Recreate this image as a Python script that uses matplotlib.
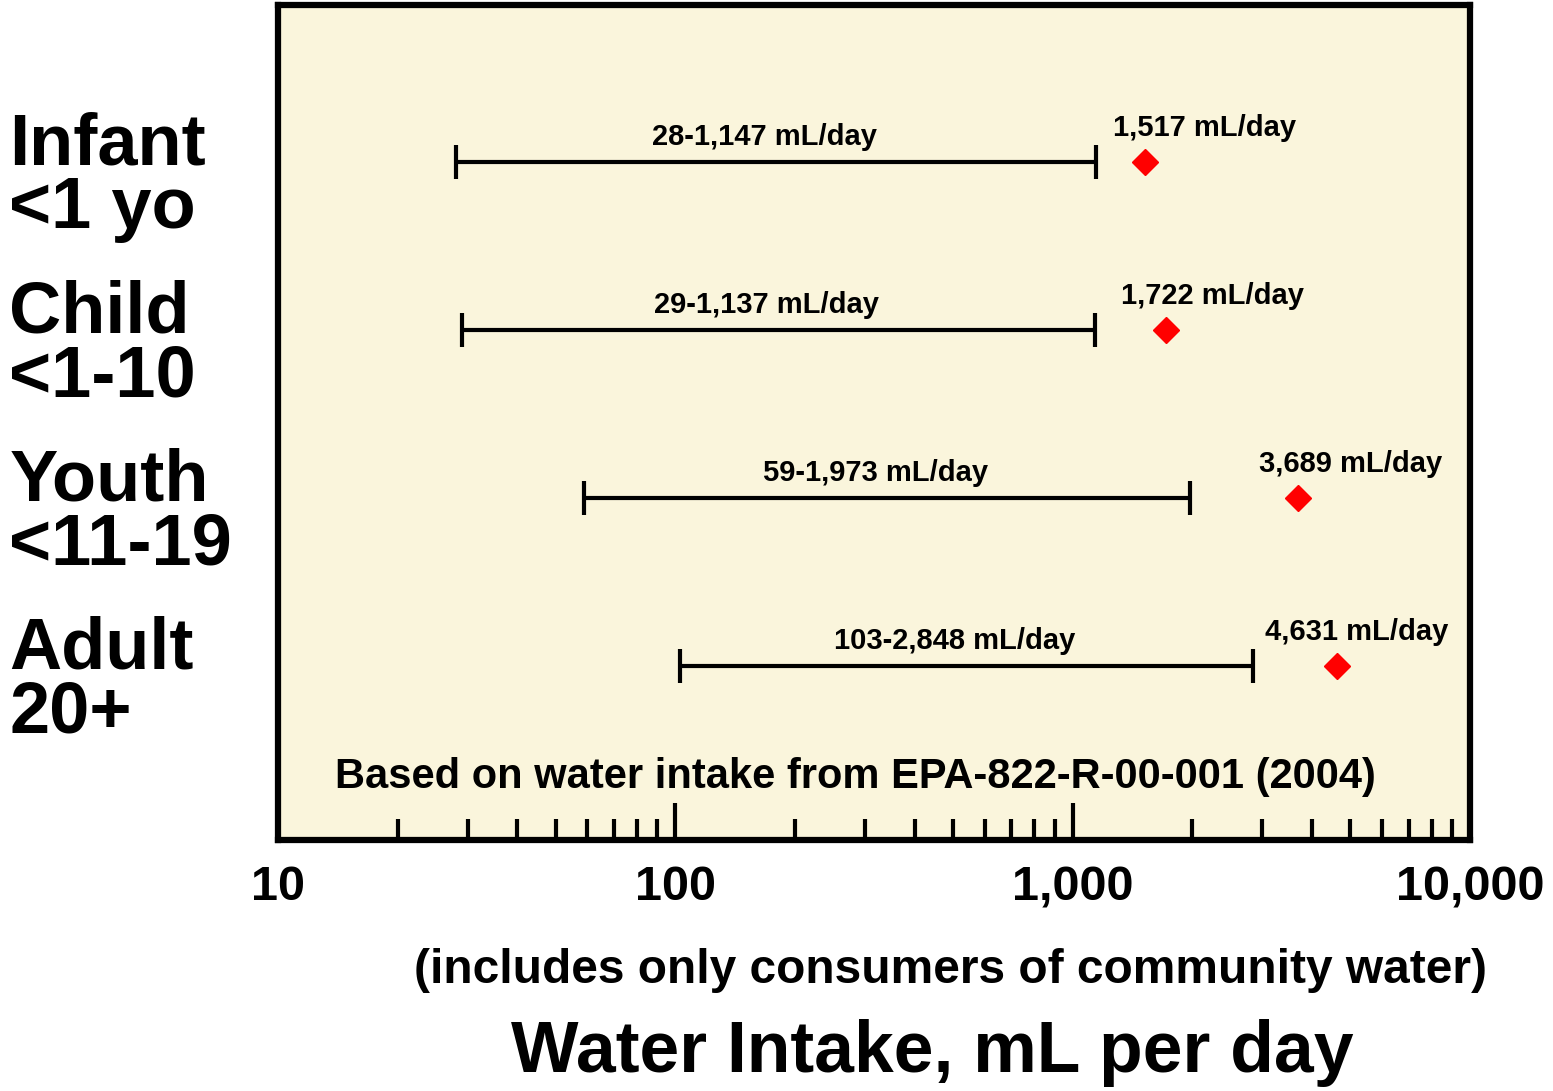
import matplotlib
matplotlib.use("Agg")
import numpy as np
import matplotlib.pyplot as plt
from matplotlib.ticker import FixedLocator, FuncFormatter
from matplotlib.transforms import blended_transform_factory

# data
groups = ["Infant\n<1 yo", "Child\n<1-10", "Youth\n<11-19", "Adult\n20+"]
range_lo = [28, 29, 59, 103]
range_hi = [1147, 1137, 1973, 2848]
upper_pt = [1517, 1722, 3689, 4631]
range_labels = ["28-1,147 mL/day", "29-1,137 mL/day", "59-1,973 mL/day", "103-2,848 mL/day"]
point_labels = ["1,517 mL/day", "1,722 mL/day", "3,689 mL/day", "4,631 mL/day"]

plt.rcParams['font.family'] = ['Liberation Sans', 'DejaVu Sans']
plt.rcParams['font.weight'] = 'bold'

fig = plt.figure(figsize=(15.53, 10.91), dpi=100)
ax = fig.add_axes([0.179, 0.230, 0.7676, 0.7654])
ax.set_facecolor('#FAF5DC')

rows = np.arange(len(groups))
ax.set_xscale('log')
ax.set_xlim(10, 10000)
ax.set_ylim(3 + 174 / 168, -157 / 168)

# range bars with end caps
ax.hlines(rows, range_lo, range_hi, color='black', lw=3)
ax.plot(range_lo, rows, ls='none', marker='|', ms=24, mew=3, color='black')
ax.plot(range_hi, rows, ls='none', marker='|', ms=24, mew=3, color='black')
# red diamonds
ax.plot(upper_pt, rows, ls='none', marker='D', ms=13, color='#FF0000', mec='#FF0000')

label_dx = [-32, -45, -39, -72]
for i in rows:
    mid = np.sqrt(range_lo[i] * range_hi[i])
    ax.annotate(range_labels[i], (mid, i), xytext=(-12, 11), textcoords='offset pixels',
                ha='center', va='bottom', fontsize=21, fontweight='bold')
    ax.annotate(point_labels[i], (upper_pt[i], i), xytext=(label_dx[i], 20),
                textcoords='offset pixels', ha='left', va='bottom',
                fontsize=21, fontweight='bold')

# group labels on the left
tr = blended_transform_factory(fig.transFigure, ax.transData)
for i in rows:
    ax.text(0.006, i + 0.09, groups[i], transform=tr, ha='left', va='center',
            fontsize=52, fontweight='bold', linespacing=0.93, clip_on=False)

ax.text(0.484, 0.075, "Based on water intake from EPA-822-R-00-001 (2004)",
        transform=ax.transAxes, ha='center', va='center', fontsize=30, fontweight='bold')

# axis styling
for s in ax.spines.values():
    s.set_linewidth(4.5)
ax.set_yticks([])
ax.xaxis.set_major_locator(FixedLocator([10, 100, 1000, 10000]))
ax.xaxis.set_major_formatter(FuncFormatter(lambda v, p: "{:,.0f}".format(v)))
ax.tick_params(axis='x', which='major', direction='in', length=27, width=3,
               labelsize=35, pad=18)
ax.tick_params(axis='x', which='minor', direction='in', length=15, width=3)
for t in ax.get_xticklabels():
    t.set_fontweight('bold')

fig.text(0.612, 0.110, "(includes only consumers of community water)",
         ha='center', va='center', fontsize=34.5, fontweight='bold')
fig.text(0.600, 0.035, "Water Intake, mL per day",
         ha='center', va='center', fontsize=51.5, fontweight='bold')

fig.savefig("out.png", dpi=100)
